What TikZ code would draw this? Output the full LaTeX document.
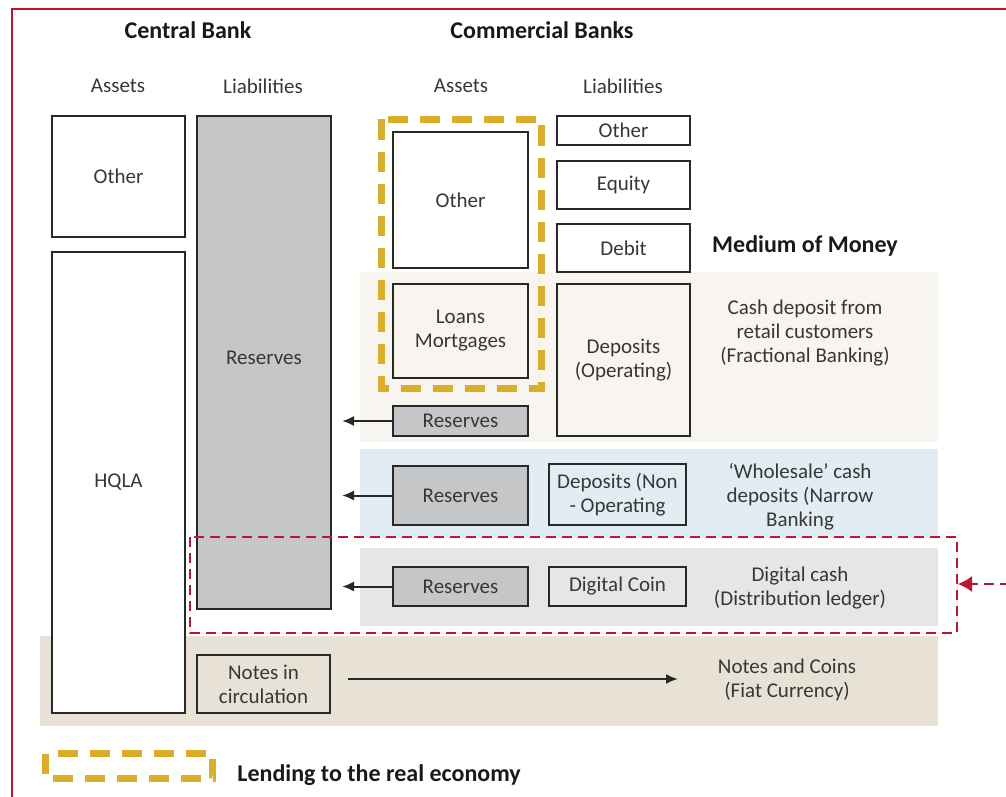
\documentclass[tikz,border=0pt]{standalone}
\usepackage{fontspec}
\setmainfont{Carlito}
\usetikzlibrary{positioning,arrows.meta}
\definecolor{txtGray}{RGB}{55,55,55}
\definecolor{boxLine}{RGB}{40,40,40}
\definecolor{reserveGray}{RGB}{196,198,200}
\definecolor{retailBeige}{RGB}{248,245,240}
\definecolor{wholesaleBlue}{RGB}{226,237,243}
\definecolor{digitalGray}{RGB}{230,230,230}
\definecolor{notesTan}{RGB}{232,225,214}
\definecolor{lendYellow}{RGB}{216,174,42}
\definecolor{hlRed}{RGB}{190,22,46}

\begin{document}
\begin{tikzpicture}[x=0.5pt, y=-0.5pt,
    every node/.append style={font=\fontsize{10.5}{12}\selectfont, text=txtGray, align=center, inner sep=0pt},
    box/.style={draw=boxLine, line width=1.2pt},
    resbox/.style={box, fill=reserveGray},
    heading/.style={font=\fontsize{12}{14}\selectfont\bfseries, text=black!90},
    arr/.style={draw=boxLine, line width=1pt, -{Latex[length=6pt,width=5pt]}},
    lenddash/.style={draw=lendYellow, line width=3.5pt, dash pattern=on 10pt off 6pt},
    reddash/.style={draw=hlRed, line width=0.8pt, dash pattern=on 5pt off 3pt}]
    \useasboundingbox (0,0) rectangle (1006,797);
    \draw[hlRed, line width=0.9pt] (1010,9) -- (12,9) -- (12,800);

    \fill[retailBeige] (360,272) rectangle (938,442);
    \fill[wholesaleBlue] (360,449) rectangle (938,538);
    \fill[digitalGray] (360,548) rectangle (938,626);
    \fill[notesTan] (40,636) rectangle (938,726);

    \node[heading] (CBTitle) at (188,30) {Central Bank};
    \node[heading] (ComTitle) at (542,30) {Commercial Banks};
    \node (CBAssets) at (118,86) {Assets};
    \node (CBLiab) at (263,86) {Liabilities};
    \node (ComAssets) at (461,86) {Assets};
    \node (ComLiab) at (623,86) {Liabilities};

    \node[box, fill=white, minimum width=66.5pt, minimum height=60.5pt] (CBOther) at (118.5,176.5) {Other};
    \node[box, fill=white, minimum width=66.5pt, minimum height=230.5pt] (HQLA) at (118.5,482.5) {HQLA};
    \node[resbox, minimum width=67pt, minimum height=246.5pt, text depth=4.5pt] (CBReserves) at (264,362.5) {Reserves};
    \node[box, minimum width=66.5pt, minimum height=29pt] (Notes) at (263.5,684) {Notes in\\circulation};

    \node[box, fill=white, minimum width=67.5pt, minimum height=68pt] (ComOther) at (460.5,200) {Other};
    \node[box, minimum width=67.5pt, minimum height=47pt] (Loans) at (460.5,331) {Loans\\Mortgages};
    \node[resbox, minimum width=67.5pt, minimum height=15pt] (ResRetail) at (460.5,421) {Reserves};
    \node[resbox, minimum width=67.5pt, minimum height=29.5pt] (ResWholesale) at (460.5,495.5) {Reserves};
    \node[resbox, minimum width=67.5pt, minimum height=19.5pt] (ResDigital) at (460.5,586.5) {Reserves};

    \node[box, fill=white, minimum width=66.5pt, minimum height=14.5pt] (LiabOther) at (623.5,130.5) {Other};
    \node[box, fill=white, minimum width=66.5pt, minimum height=24pt] (Equity) at (623.5,185) {Equity};
    \node[box, fill=white, minimum width=66.5pt, minimum height=24pt] (Debit) at (623.5,248) {Debit};
    \node[box, minimum width=66.5pt, minimum height=76pt] (Deposits) at (623.5,360) {Deposits\\(Operating)};
    \node[box, minimum width=68.5pt, minimum height=30.5pt] (DepNon) at (617.5,494.5) {Deposits (Non\\- Operating};
    \node[box, minimum width=68.5pt, minimum height=19.5pt] (DigCoin) at (617.5,586.5) {Digital Coin};

    \node[heading] (MediumMoney) at (805,246) {Medium of Money};
    \node (RetailText) at (805,333) {Cash deposit from\\retail customers\\(Fractional Banking)};
    \node (WholesaleText) at (800,497) {‘Wholesale’ cash\\deposits (Narrow\\Banking};
    \node (DigitalText) at (800,588.5) {Digital cash\\(Distribution ledger)};
    \node (NotesCoins) at (787,679.5) {Notes and Coins\\(Fiat Currency)};

    \coordinate (ResRetailEnd) at (342,421);
    \coordinate (ResWholesaleEnd) at (342,495.5);
    \coordinate (ResDigitalEnd) at (342,586.5);
    \coordinate (NotesEnd) at (678,679);
    \draw[arr] (ResRetail.west) -- (ResRetailEnd);
    \draw[arr] (ResWholesale.west) -- (ResWholesaleEnd);
    \draw[arr] (ResDigital.west) -- (ResDigitalEnd);
    \draw[arr, shorten <=8.5pt] (Notes.east |- NotesEnd) -- (NotesEnd);

    \draw[lenddash] (381.5,119.5) rectangle (541.5,388.5);

    \draw[reddash] (190,537) rectangle (957,633);
    \coordinate (HighlightFrom) at (1010,584);
    \coordinate (HighlightTo) at (958,584);
    \draw[reddash, -{Latex[length=7pt,width=8pt]}] (HighlightFrom) -- (HighlightTo);

    \draw[lenddash] (45.5,753.5) rectangle (212.5,778.5);
    \node[heading, anchor=west] (LendingText) at (237,775) {Lending to the real economy};
\end{tikzpicture}
\end{document}
